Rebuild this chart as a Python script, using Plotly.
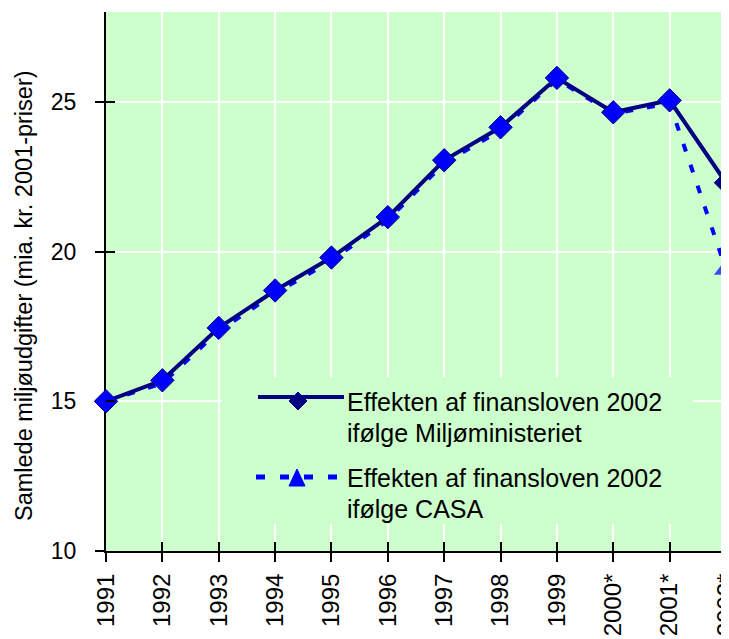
import plotly.graph_objects as go

# ---- data ----
years = ["1991", "1992", "1993", "1994", "1995", "1996", "1997", "1998",
         "1999", "2000*", "2001*", "2002*"]
miljo = [15.0, 15.7, 17.45, 18.7, 19.8, 21.15, 23.05, 24.15, 25.8, 24.65, 25.05, 22.3]
casa = [15.0, 15.6, 17.35, 18.6, 19.7, 21.05, 22.95, 24.05, 25.75, 24.6, 24.95, 19.4]
y_ticks = [10, 15, 20, 25]
y_range = [10, 28]
name_miljo = ["Effekten af finansloven 2002", "ifølge Miljøministeriet"]
name_casa = ["Effekten af finansloven 2002", "ifølge CASA"]
y_title = "Samlede miljøudgifter (mia. kr. 2001-priser)"

# ---- styling ----
W, H = 729, 639
OFF = 8  # page body offset
L, T = 98, 4
PW, PH = 620, 539
R = W - L - PW
B = H - T - PH
NAVY, BLUE, GREEN = "#000080", "#0000FF", "#CCFFCC"
FONT = "Liberation Sans, Arial, sans-serif"
n = len(years)


def px(x):
    return (x - OFF - L) / PW


def py(y):
    return (T + PH - (y - OFF)) / PH


fig = go.Figure()
fig.add_trace(go.Scatter(
    x=years, y=casa, mode="lines+markers", cliponaxis=False, showlegend=False,
    line=dict(color=BLUE, width=4, dash="8px,14px"),
    marker=dict(symbol="triangle-up", color=BLUE,
                size=[0] * (n - 1) + [21], line=dict(width=0)),
    hoverinfo="x+y"))
fig.add_trace(go.Scatter(
    x=years, y=miljo, mode="lines+markers", cliponaxis=False, showlegend=False,
    line=dict(color=NAVY, width=4),
    marker=dict(symbol="diamond", size=18,
                color=[BLUE] * (n - 1) + [NAVY], line=dict(color=NAVY, width=1)),
    hoverinfo="x+y"))
# empty trace to activate overlay axes (for crossing tick marks)
fig.add_trace(go.Scatter(x=[], y=[], xaxis="x2", yaxis="y2", showlegend=False,
                         hoverinfo="skip"))

axis_common = dict(showline=True, linecolor="black", linewidth=2,
                   ticks="outside", ticklen=9, tickwidth=2, tickcolor="black",
                   showgrid=True, gridcolor="white", gridwidth=2,
                   zeroline=False, layer="below traces")

fig.update_layout(
    width=W, height=H, margin=dict(l=L, r=R, t=T, b=B, autoexpand=False),
    paper_bgcolor="white", plot_bgcolor=GREEN, showlegend=False,
    font=dict(family=FONT, color="black"),
    xaxis=dict(type="category", range=[0, n - 1], tickangle=-90,
               ticklabelstandoff=2,
               tickfont=dict(family=FONT, size=24, color="black"), **axis_common),
    yaxis=dict(range=y_range, tickvals=y_ticks, ticklabelstandoff=14,
               tickfont=dict(family=FONT, size=23, color="black"), **axis_common),
    xaxis2=dict(overlaying="x", anchor="y2", range=[0, n - 1],
                tickvals=list(range(n)), ticks="inside", ticklen=9, tickwidth=2,
                tickcolor="black", showticklabels=False, showgrid=False,
                showline=False, zeroline=False),
    yaxis2=dict(overlaying="y", anchor="x2", range=y_range, tickvals=y_ticks,
                ticks="inside", ticklen=9, tickwidth=2, tickcolor="black",
                showticklabels=False, showgrid=False, showline=False,
                zeroline=False),
)

# ---- manual legend (page pixel coordinates) ----
shapes = [
    dict(type="rect", xref="paper", yref="paper", x0=px(222), x1=px(693),
         y0=py(524), y1=py(377), fillcolor=GREEN, line=dict(width=0), layer="above"),
    dict(type="line", xref="paper", yref="paper", x0=px(258), x1=px(344),
         y0=py(397), y1=py(397), line=dict(color=NAVY, width=4), layer="above"),
    dict(type="path", xref="paper", yref="paper",
         path=f"M{px(289)},{py(401)} L{px(298)},{py(392)} L{px(307)},{py(401)} L{px(298)},{py(410)} Z",
         fillcolor=NAVY, line=dict(color=NAVY, width=1), layer="above"),
    dict(type="line", xref="paper", yref="paper", x0=px(256), x1=px(337),
         y0=py(477), y1=py(477), line=dict(color=BLUE, width=5, dash="9px,15px"),
         layer="above"),
    dict(type="path", xref="paper", yref="paper",
         path=f"M{px(289)},{py(486)} L{px(297)},{py(469)} L{px(305)},{py(486)} Z",
         fillcolor=BLUE, line=dict(color=BLUE, width=1), layer="above"),
]
annotations = []
for text, yc in zip(name_miljo + name_casa, [401, 432, 477, 508]):
    annotations.append(dict(xref="paper", yref="paper", x=px(345), y=py(yc + 1),
                            xanchor="left", yanchor="middle", text=text,
                            showarrow=False,
                            font=dict(family=FONT, size=25, color="black")))
annotations.append(dict(xref="paper", yref="paper", x=px(24), y=py(296),
                        xanchor="center", yanchor="middle", text=y_title,
                        textangle=-90, showarrow=False,
                        font=dict(family=FONT, size=23.5, color="black")))
fig.update_layout(shapes=shapes, annotations=annotations)

fig.write_html("out.html")
